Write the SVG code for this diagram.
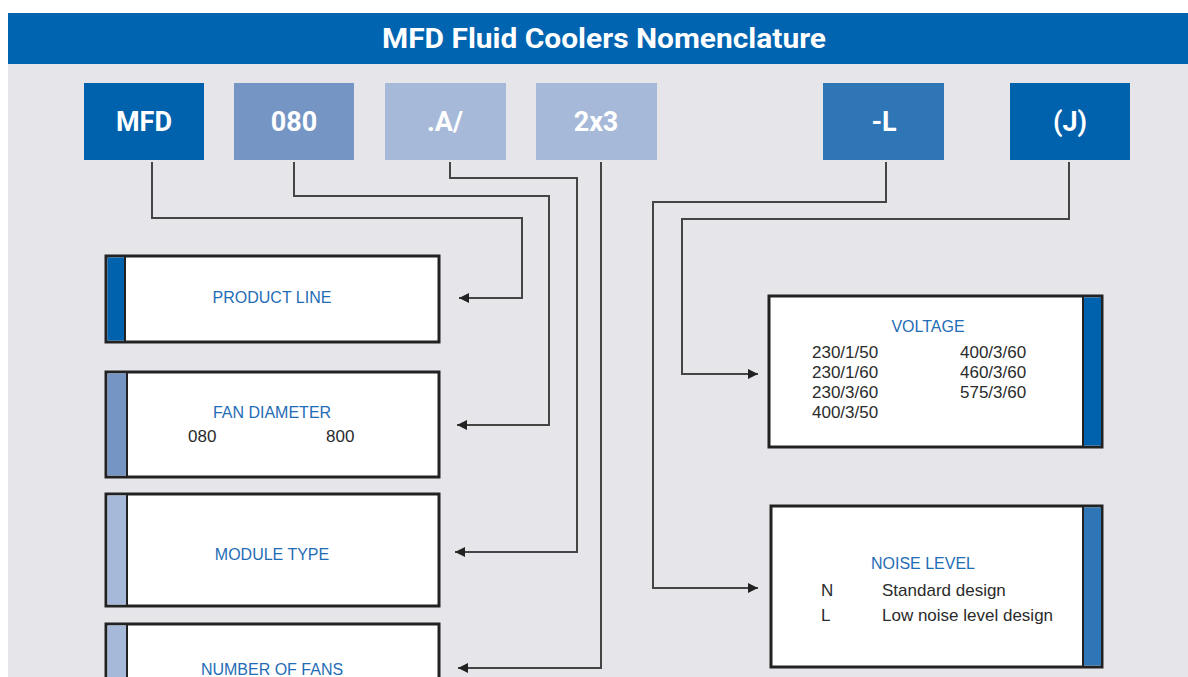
<svg xmlns="http://www.w3.org/2000/svg" width="1188" height="677" viewBox="0 0 1188 677">
<style>
.code{font-family:Roboto,"Liberation Sans",sans-serif;font-weight:700;font-size:27px;fill:#fff;text-anchor:middle}
.lbl{font-family:"Liberation Sans",Arial,sans-serif;font-size:16px;fill:#1f6db5;text-anchor:middle}
.val{font-family:"Liberation Sans",Arial,sans-serif;font-size:17px;fill:#2b2b2b}
.box{fill:#fff;stroke:#222;stroke-width:3}
.con{fill:none;stroke:#444;stroke-width:2}
</style>
<defs>
<marker id="ah" viewBox="0 0 10 10" refX="10" refY="5" markerWidth="14" markerHeight="10" markerUnits="userSpaceOnUse" orient="auto">
<path d="M0,0 L10,5 L0,10 Z" fill="#222"/>
</marker>
</defs>
<rect width="1188" height="677" fill="#fff"/>
<rect x="8" y="64" width="1180" height="613" fill="#e6e6ea"/>
<rect x="8" y="13" width="1180" height="51" fill="#0064b0"/>
<text x="604" y="48" font-family="Roboto,'Liberation Sans',sans-serif" font-weight="700" font-size="27" fill="#fff" text-anchor="middle" textLength="444" lengthAdjust="spacingAndGlyphs">MFD Fluid Coolers Nomenclature</text>

<g id="code-mfd"><rect x="84" y="83" width="120" height="77" fill="#0061ad"/><text class="code" x="144" y="131">MFD</text></g>
<g id="code-080"><rect x="234" y="83" width="120" height="77" fill="#7596c4"/><text class="code" x="294" y="131">080</text></g>
<g id="code-a"><rect x="385" y="83" width="121" height="77" fill="#a7b9d8"/><text class="code" x="445" y="131">.A/</text></g>
<g id="code-2x3"><rect x="536" y="83" width="121" height="77" fill="#a7b9d8"/><text class="code" x="596" y="131">2x3</text></g>
<g id="code-l"><rect x="823" y="83" width="121" height="77" fill="#2e76b6"/><text class="code" x="884" y="131">-L</text></g>
<g id="code-j"><rect x="1010" y="83" width="120" height="77" fill="#0062ad"/><text class="code" x="1070" y="131">(J)</text></g>

<g id="connectors">
<path class="con" d="M152,162 V218 H522 V298 H459" marker-end="url(#ah)"/>
<path class="con" d="M294,162 V196 H549 V425 H457" marker-end="url(#ah)"/>
<path class="con" d="M450,162 V178 H577 V552 H455" marker-end="url(#ah)"/>
<path class="con" d="M601,162 V668 H458" marker-end="url(#ah)"/>
<path class="con" d="M886,162 V202 H653 V588 H758" marker-end="url(#ah)"/>
<path class="con" d="M1069,162 V219 H682 V374 H758" marker-end="url(#ah)"/>
</g>

<g id="product-line"><rect class="box" x="106" y="256" width="333" height="86"/><rect x="107.5" y="257.5" width="17" height="83" fill="#0061ad"/><line x1="125" y1="256" x2="125" y2="342" stroke="#222" stroke-width="2"/><text class="lbl" x="272" y="303">PRODUCT LINE</text></g>
<g id="fan-diameter"><rect class="box" x="106" y="372" width="333" height="105"/><rect x="107.5" y="373.5" width="19" height="102" fill="#7596c4"/><line x1="127" y1="372" x2="127" y2="477" stroke="#222" stroke-width="2"/><text class="lbl" x="272" y="418">FAN DIAMETER</text><text class="val" x="188" y="442">080</text><text class="val" x="326" y="442">800</text></g>
<g id="module-type"><rect class="box" x="106" y="494" width="333" height="112"/><rect x="107.5" y="495.5" width="19" height="109" fill="#a7b9d8"/><line x1="127" y1="494" x2="127" y2="606" stroke="#222" stroke-width="2"/><text class="lbl" x="272" y="560">MODULE TYPE</text></g>
<g id="number-of-fans"><rect class="box" x="106" y="624" width="333" height="70"/><rect x="107.5" y="625.5" width="19" height="60" fill="#a7b9d8"/><line x1="127" y1="624" x2="127" y2="690" stroke="#222" stroke-width="2"/><text class="lbl" x="272" y="675">NUMBER OF FANS</text></g>

<g id="voltage"><rect class="box" x="769" y="296" width="333" height="151"/><rect x="1084" y="297.5" width="17" height="148" fill="#0061ad"/><line x1="1083" y1="296" x2="1083" y2="447" stroke="#222" stroke-width="2"/><text class="lbl" x="928" y="332">VOLTAGE</text>
<text class="val" x="812" y="358">230/1/50</text><text class="val" x="812" y="378">230/1/60</text><text class="val" x="812" y="398">230/3/60</text><text class="val" x="812" y="418">400/3/50</text>
<text class="val" x="960" y="358">400/3/60</text><text class="val" x="960" y="378">460/3/60</text><text class="val" x="960" y="398">575/3/60</text></g>

<g id="noise-level"><rect class="box" x="771" y="506" width="331" height="161"/><rect x="1084" y="507.5" width="17" height="158" fill="#2e76b6"/><line x1="1083" y1="506" x2="1083" y2="667" stroke="#222" stroke-width="2"/><text class="lbl" x="923" y="569">NOISE LEVEL</text>
<text class="val" x="821" y="596">N</text><text class="val" x="882" y="596">Standard design</text>
<text class="val" x="821" y="621">L</text><text class="val" x="882" y="621">Low noise level design</text></g>
</svg>
